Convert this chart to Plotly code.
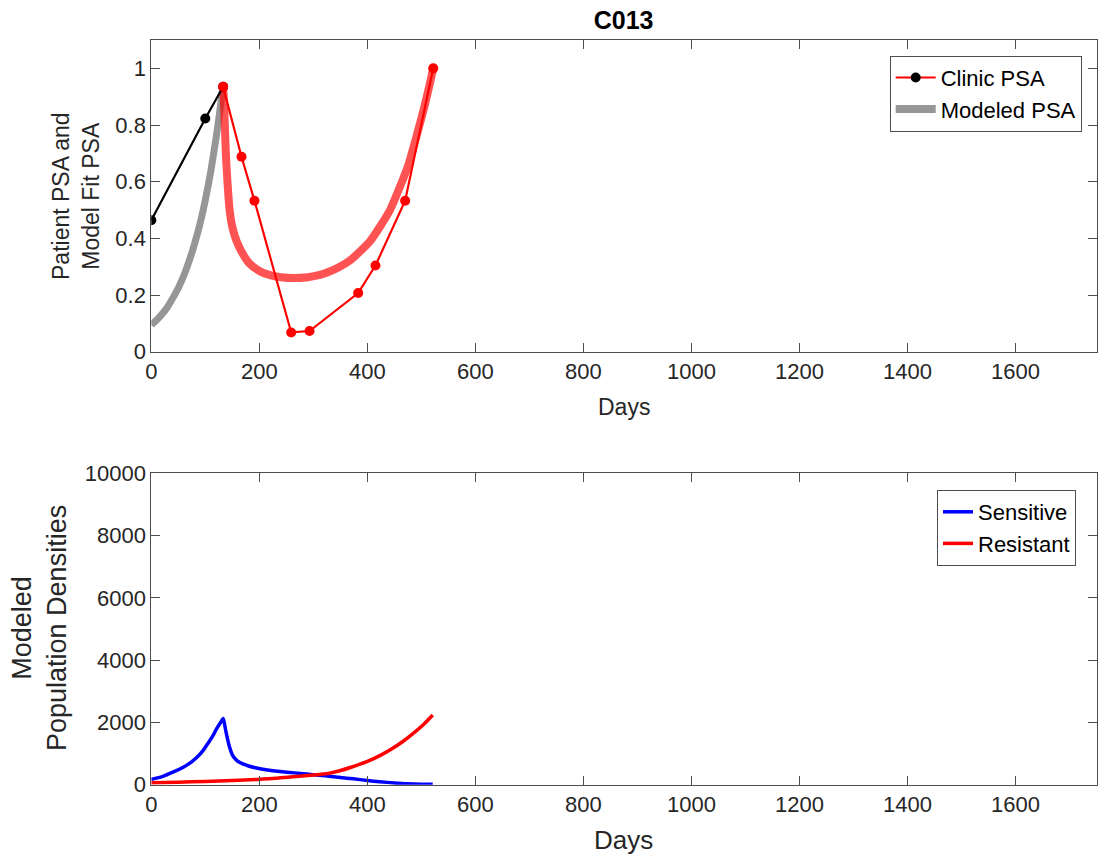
import plotly.graph_objects as go

# ---------------- data ----------------
clinic_pre_days = [0, 100, 133]
clinic_pre_psa = [0.464, 0.823, 0.935]

clinic_post_days = [133, 167, 191, 259, 293, 383, 415, 470, 522]
clinic_post_psa = [0.935, 0.688, 0.533, 0.068, 0.073, 0.207, 0.304, 0.533, 1.0]

model_pre_days = [0, 10, 20, 30, 40, 50, 60, 70, 80, 90, 100, 110, 120, 127, 133]
model_pre_psa = [0.095, 0.112, 0.133, 0.158, 0.19, 0.225, 0.268, 0.32, 0.38, 0.45,
                 0.535, 0.635, 0.755, 0.85, 0.94]

model_post_days = [133, 135, 138, 141, 145, 150, 158, 168, 180, 200, 220, 240, 263, 290,
                   312, 330, 349, 370, 386, 405, 423, 442, 460, 476, 491, 505, 515, 522]
model_post_psa = [0.94, 0.86, 0.70, 0.60, 0.50, 0.44, 0.39, 0.35, 0.315, 0.285, 0.27,
                  0.263, 0.26, 0.263, 0.271, 0.283, 0.30, 0.325, 0.353, 0.39, 0.44,
                  0.50, 0.58, 0.66, 0.76, 0.86, 0.94, 1.0]

sens_days = [0, 20, 41, 60, 72, 85, 95, 103, 110, 115, 121, 128, 133, 135, 138, 141, 145,
             150, 156, 164, 180, 195, 215, 238, 265, 288, 310, 325, 350, 374, 400, 423,
             450, 473, 500, 521]
sens_vals = [170, 260, 410, 570, 700, 890, 1080, 1280, 1460, 1600, 1800, 1990, 2130,
             2000, 1720, 1480, 1200, 960, 820, 710, 600, 535, 475, 425, 380, 340, 300,
             280, 230, 190, 135, 95, 55, 28, 15, 12]

res_days = [0, 50, 100, 150, 195, 230, 257, 290, 312, 330, 349, 370, 399, 425, 447, 465,
            485, 505, 521]
res_vals = [60, 80, 105, 135, 170, 205, 250, 295, 330, 370, 450, 560, 740, 950, 1170,
            1380, 1650, 1950, 2240]

x_ticks = [0, 200, 400, 600, 800, 1000, 1200, 1400, 1600]
psa_ticks = [0, 0.2, 0.4, 0.6, 0.8, 1]
psa_tick_text = ["0", "0.2", "0.4", "0.6", "0.8", "1"]
pop_ticks = [0, 2000, 4000, 6000, 8000, 10000]
pop_tick_text = ["0", "2000", "4000", "6000", "8000", "10000"]

# ---------------- figure ----------------
W, H = 1105, 861
FONT = "Liberation Sans, Arial, Helvetica, sans-serif"
AX = "#262626"
BOX = "#4d4d4d"

fig = go.Figure()

# top panel (modeled first, clinic on top)
fig.add_trace(go.Scatter(x=model_pre_days, y=model_pre_psa, mode="lines",
                         line=dict(color="rgb(150,150,150)", width=7, shape="spline", smoothing=0.6),
                         name="Modeled PSA", showlegend=False, xaxis="x", yaxis="y"))
fig.add_trace(go.Scatter(x=model_post_days, y=model_post_psa, mode="lines",
                         line=dict(color="rgba(255,0,0,0.68)", width=8, shape="spline", smoothing=0.6),
                         showlegend=False, xaxis="x", yaxis="y"))
fig.add_trace(go.Scatter(x=clinic_pre_days, y=clinic_pre_psa, mode="lines+markers",
                         line=dict(color="black", width=2.2), marker=dict(color="black", size=10),
                         showlegend=False, xaxis="x", yaxis="y"))
fig.add_trace(go.Scatter(x=clinic_post_days, y=clinic_post_psa, mode="lines+markers",
                         line=dict(color="red", width=2.2), marker=dict(color="red", size=10),
                         showlegend=False, xaxis="x", yaxis="y"))
# legend entries
fig.add_trace(go.Scatter(x=[None], y=[None], mode="lines+markers",
                         line=dict(color="red", width=2.2), marker=dict(color="black", size=10),
                         name="Clinic PSA", legend="legend", xaxis="x", yaxis="y"))
fig.add_trace(go.Scatter(x=[None], y=[None], mode="lines",
                         line=dict(color="rgb(150,150,150)", width=8),
                         name="Modeled PSA", legend="legend", xaxis="x", yaxis="y"))

# bottom panel
fig.add_trace(go.Scatter(x=sens_days, y=sens_vals, mode="lines",
                         line=dict(color="rgb(0,0,255)", width=3.5, shape="spline", smoothing=0.5),
                         name="Sensitive", legend="legend2", xaxis="x2", yaxis="y2"))
fig.add_trace(go.Scatter(x=res_days, y=res_vals, mode="lines",
                         line=dict(color="rgb(255,0,0)", width=3.5, shape="spline", smoothing=0.5),
                         name="Resistant", legend="legend2", xaxis="x2", yaxis="y2"))

x0, x1 = 151.3 / W, 1096.5 / W
top_dom = [1 - 351.7 / H, 1 - 40 / H]
bot_dom = [1 - 784.7 / H, 1 - 473.3 / H]

axis_common = dict(
    showgrid=False, zeroline=False, showline=True, linecolor=BOX, linewidth=1,
    mirror="ticks", ticks="inside", ticklen=9, tickwidth=1, tickcolor=BOX,
    tickfont=dict(family=FONT, size=22, color=AX), automargin=False,
)

fig.update_layout(
    width=W, height=H,
    margin=dict(l=0, r=0, t=0, b=0, autoexpand=False),
    paper_bgcolor="white", plot_bgcolor="white",
    font=dict(family=FONT, color=AX),
    title=dict(text="<b>C013</b>", x=623.6 / W, xanchor="center",
               y=1 - 20.5 / H, yanchor="middle",
               font=dict(family=FONT, size=25, color="black")),
    xaxis=dict(domain=[x0, x1], range=[0, 1750], tickvals=x_ticks, anchor="y", **axis_common),
    yaxis=dict(domain=top_dom, range=[0, 1.1], tickvals=psa_ticks,
               ticktext=psa_tick_text, anchor="x", **axis_common),
    xaxis2=dict(domain=[x0, x1], range=[0, 1750], tickvals=x_ticks, anchor="y2", **axis_common),
    yaxis2=dict(domain=bot_dom, range=[0, 10000], tickvals=pop_ticks,
                ticktext=pop_tick_text, anchor="x2", **axis_common),
    legend=dict(x=1081.7 / W, y=1 - 55.7 / H, xanchor="right", yanchor="top",
                bgcolor="white", bordercolor=BOX, borderwidth=1,
                font=dict(family=FONT, size=22, color="black"),
                tracegroupgap=0, itemwidth=40),
    legend2=dict(x=1076 / W, y=1 - 490 / H, xanchor="right", yanchor="top",
                 bgcolor="white", bordercolor=BOX, borderwidth=1,
                 font=dict(family=FONT, size=22, color="black"),
                 tracegroupgap=0, itemwidth=30),
    annotations=[
        dict(text="Days", xref="paper", yref="paper", x=623.6 / W, y=1 - 407 / H,
             xanchor="center", yanchor="middle", showarrow=False,
             font=dict(family=FONT, size=23, color=AX)),
        dict(text="Days", xref="paper", yref="paper", x=623.6 / W, y=1 - 840 / H,
             xanchor="center", yanchor="middle", showarrow=False,
             font=dict(family=FONT, size=26, color=AX)),
        dict(text="Patient PSA and<br>Model Fit PSA", xref="paper", yref="paper",
             x=76 / W, y=1 - 196 / H, xanchor="center", yanchor="middle",
             textangle=-90, showarrow=False,
             font=dict(family=FONT, size=23, color=AX)),
        dict(text="Modeled<br>Population Densities", xref="paper", yref="paper",
             x=39.5 / W, y=1 - 628.5 / H, xanchor="center", yanchor="middle",
             textangle=-90, showarrow=False,
             font=dict(family=FONT, size=27, color=AX)),
    ],
)

fig.write_html("out.html")
